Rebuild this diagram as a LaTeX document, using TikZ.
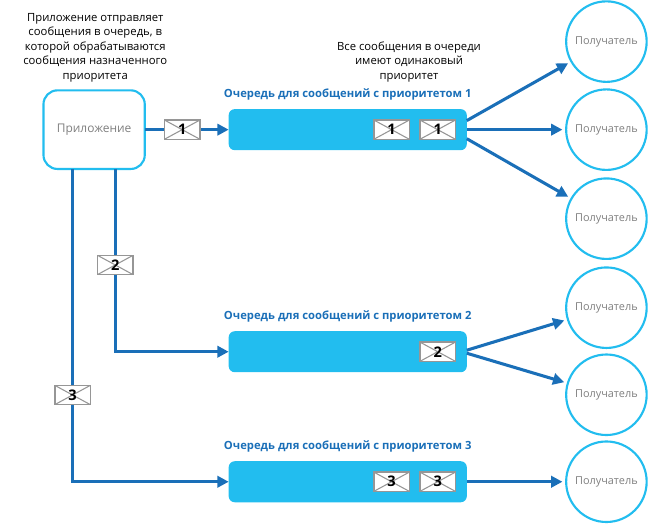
\documentclass[tikz,border=0pt]{standalone}
\usepackage{fontspec}
\setmainfont{Open Sans}
\usepackage{xcolor}
\usetikzlibrary{shapes,arrows.meta,positioning,calc,fit}
\definecolor{queuecyan}{HTML}{22BDEF}
\definecolor{arrowblue}{HTML}{1A6FB8}
\definecolor{labelgray}{HTML}{808080}
\definecolor{envgray}{HTML}{969696}

\begin{document}
\begin{tikzpicture}[
        node distance=2cm,
        app/.style={rectangle, rounded corners=0.37cm, draw=queuecyan, line width=1.6pt, fill=white, minimum width=2.68cm, minimum height=2.08cm, text=labelgray, outer sep=0pt, font=\fontsize{9pt}{11pt}\selectfont},
        queue/.style={rectangle, rounded corners=0.16cm, fill=queuecyan, minimum width=6.3cm, minimum height=1.085cm, outer sep=0pt},
        receiver/.style={circle, draw=queuecyan, line width=1.6pt, fill=white, minimum size=2.13cm, inner sep=0pt, text=labelgray, outer sep=0.8pt, font=\fontsize{8.2pt}{10pt}\selectfont},
        envelope/.style={rectangle, draw=envgray, line width=1.1pt, fill=white, minimum width=0.94cm, minimum height=0.51cm, inner sep=0pt, outer sep=0pt, font=\fontsize{11pt}{12pt}\selectfont\bfseries,
            path picture={\draw[envgray, line width=0.8pt] (path picture bounding box.north west) -- (path picture bounding box.south east) (path picture bounding box.south west) -- (path picture bounding box.north east);}},
        qlabel/.style={text=arrowblue, font=\fontsize{8.47pt}{10.9pt}\selectfont\bfseries},
        note/.style={align=center, text=black, font=\fontsize{8.5pt}{10.9pt}\selectfont},
        arrow/.style={-{Triangle[length=8.5pt,width=8.5pt]}, line width=2.3pt, arrowblue},
        rcvarrow/.style={arrow, shorten >=2pt}
    ]
        \useasboundingbox (0,0) rectangle (17.17,-13.94);

        % Application
        \node[app] (app) at (2.49,-3.43) {Приложение};

        % Queues
        \node[queue, right=2.22cm of app] (queue1) {};
        \node[queue, below=4.79cm of queue1] (queue2) {};
        \node[queue, below=2.355cm of queue2] (queue3) {};

        % Receivers
        \node[receiver, right=2.60cm of queue1] (rcv2) {Получатель};
        \node[receiver, above=0.143cm of rcv2] (rcv1) {Получатель};
        \node[receiver, below=0.169cm of rcv2] (rcv3) {Получатель};
        \node[receiver, below=0.169cm of rcv3] (rcv4) {Получатель};
        \node[receiver, below=0.117cm of rcv4] (rcv5) {Получатель};
        \node[receiver, right=2.60cm of queue3] (rcv6) {Получатель};

        % Connections
        \draw[arrow] (app) -- (queue1);
        \draw[arrow] ([xshift=0.565cm]app.south) |- (queue2.west);
        \draw[arrow] ([xshift=-0.57cm]app.south) |- (queue3.west);
        \draw[rcvarrow] ([yshift=0.24cm]queue1.east) -- (rcv1);
        \draw[rcvarrow] (queue1.east) -- (rcv2);
        \draw[rcvarrow] ([yshift=-0.24cm]queue1.east) -- (rcv3);
        \draw[rcvarrow] ([yshift=0.04cm]queue2.east) -- (rcv4);
        \draw[rcvarrow] ([yshift=-0.04cm]queue2.east) -- (rcv5);
        \draw[rcvarrow] (queue3.east) -- (rcv6);

        % Messages
        \node[envelope] (msg1) at (4.82,-3.43) {1};
        \node[envelope] (msg2) at (3.05,-7.01) {2};
        \node[envelope] (msg3) at (1.92,-10.45) {3};
        \node[envelope, left=0.3cm of queue1.east] (q1b) {1};
        \node[envelope, left=0.28cm of q1b] (q1a) {1};
        \node[envelope, left=0.3cm of queue2.east] (q2a) {2};
        \node[envelope, left=0.3cm of queue3.east] (q3b) {3};
        \node[envelope, left=0.28cm of q3b] (q3a) {3};

        % Labels
        \node[qlabel, above=0.12cm of queue1] (label1) {Очередь для сообщений с приоритетом 1};
        \node[qlabel, above=0.12cm of queue2] (label2) {Очередь для сообщений с приоритетом 2};
        \node[qlabel, above=0.12cm of queue3] (label3) {Очередь для сообщений с приоритетом 3};
        \node[note, above=0.1cm of app, xshift=0.03cm] (note1) {Приложение отправляет\\сообщения в очередь, в\\которой обрабатываются\\сообщения назначенного\\приоритета};
        \node[note, above=-0.08cm of label1, xshift=1.62cm] (note2) {Все сообщения в очереди\\имеют одинаковый\\приоритет};
    \end{tikzpicture}
\end{document}
